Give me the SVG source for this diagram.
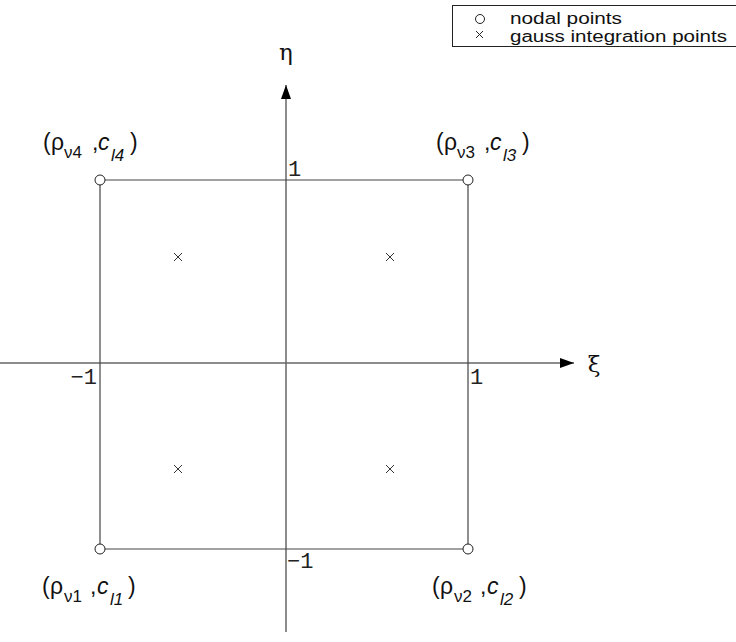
<svg xmlns="http://www.w3.org/2000/svg" width="736" height="642" viewBox="0 0 736 642">
<style>
.ax{stroke:#666;stroke-width:1.5;fill:none}
.sq{stroke:#444;stroke-width:1.2;fill:none}
.nd{stroke:#222;stroke-width:1;fill:#fff}
.gp{stroke:#333;stroke-width:1}
.num{font-family:"Liberation Mono","Courier New",monospace;font-size:22px;fill:#222}
.lbl{font-family:"Liberation Sans",Arial,sans-serif;font-size:23px;fill:#111}
.sub{font-size:17px}
.it{font-style:italic}
.leg{font-family:"Liberation Sans",Arial,sans-serif;font-size:16px;fill:#111}
.gr{font-family:"DejaVu Serif","Liberation Serif",serif;font-size:23px;fill:#111}
</style>
<defs>
<marker id="ar" markerWidth="16" markerHeight="12" refX="14" refY="5" orient="auto" markerUnits="userSpaceOnUse">
<path d="M0,0 L14,5 L0,10 Z" fill="#000"/>
</marker>
</defs>
<rect width="736" height="642" fill="#fff"/>
<g id="connectors">
<line class="ax" x1="286" y1="632" x2="286" y2="85" marker-end="url(#ar)"/>
<line class="ax" x1="0" y1="363" x2="574" y2="363" marker-end="url(#ar)"/>
<polyline class="sq" points="100,180 468,180 468,549 100,549 100,180"/>
</g>
<g id="axis-labels">
<text class="gr" x="286" y="60" text-anchor="middle">η</text>
<text class="gr" x="594" y="372" text-anchor="middle">ξ</text>
<text class="num" x="288" y="176">1</text>
<text class="num" x="97" y="384" text-anchor="end">−1</text>
<text class="num" x="470" y="384">1</text>
<text class="num" x="287" y="568">−1</text>
</g>
<g id="node1">
<circle class="nd" cx="100" cy="549" r="5"/>
<text class="lbl" y="594"><tspan x="42">(</tspan><tspan x="50">ρ</tspan><tspan class="sub" x="64" dy="8">ν1</tspan><tspan x="90" dy="-8">,</tspan><tspan class="it" x="97">c</tspan><tspan class="sub it" x="110" dy="11">l1</tspan><tspan x="128" dy="-11">)</tspan></text>
</g>
<g id="node2">
<circle class="nd" cx="468" cy="549" r="5"/>
<text class="lbl" y="594"><tspan x="432">(</tspan><tspan x="440">ρ</tspan><tspan class="sub" x="454" dy="8">ν2</tspan><tspan x="480" dy="-8">,</tspan><tspan class="it" x="487">c</tspan><tspan class="sub it" x="500" dy="11">l2</tspan><tspan x="519" dy="-11">)</tspan></text>
</g>
<g id="node3">
<circle class="nd" cx="468" cy="180" r="5"/>
<text class="lbl" y="150"><tspan x="436">(</tspan><tspan x="444">ρ</tspan><tspan class="sub" x="457" dy="8">ν3</tspan><tspan x="484" dy="-8">,</tspan><tspan class="it" x="490">c</tspan><tspan class="sub it" x="503" dy="11">l3</tspan><tspan x="522" dy="-11">)</tspan></text>
</g>
<g id="node4">
<circle class="nd" cx="100" cy="180" r="5"/>
<text class="lbl" y="150"><tspan x="43">(</tspan><tspan x="51">ρ</tspan><tspan class="sub" x="64" dy="8">ν4</tspan><tspan x="92" dy="-8">,</tspan><tspan class="it" x="98">c</tspan><tspan class="sub it" x="111" dy="11">l4</tspan><tspan x="130" dy="-11">)</tspan></text>
</g>
<g id="gauss-points">
<path class="gp" d="M174,253 l8,8 M182,253 l-8,8 M386,253 l8,8 M394,253 l-8,8 M174,465 l8,8 M182,465 l-8,8 M386,465 l8,8 M394,465 l-8,8"/>
</g>
<g id="legend">
<rect x="452.5" y="5.5" width="290" height="41" fill="#fff" stroke="#222" stroke-width="1"/>
<circle cx="480" cy="19" r="4.5" fill="none" stroke="#222" stroke-width="1"/>
<path d="M476,31 l7,7 M483,31 l-7,7" stroke="#222" stroke-width="1"/>
<text class="leg" x="510" y="24" textLength="112" lengthAdjust="spacingAndGlyphs">nodal points</text>
<text class="leg" x="510" y="41.5" textLength="217" lengthAdjust="spacingAndGlyphs">gauss integration points</text>
</g>
</svg>
